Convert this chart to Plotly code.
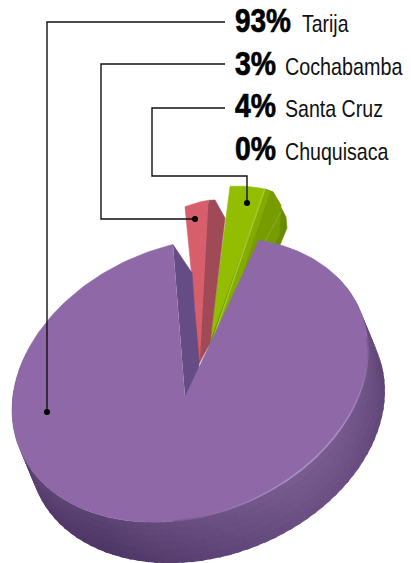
import numpy as np
import plotly.graph_objects as go

# ---- data
categories = ["Tarija", "Cochabamba", "Santa Cruz", "Chuquisaca"]
percent = [93, 3, 4, 0]
label_base = [32, 75, 117, 160]
pct_width = [56, 41, 41, 41]
name_x = [302, 285, 285, 285]
name_width = [47, 118, 98, 104]

# ---- projection of the tilted pie (pixel-space axes)
CX, CY = 190, 380
AX, CXY, DY = 178, -30, 139
APEX = (185, 397)
SHIFT = (17, 41)
GAP_STRETCH = 28.3 / 25.2
W, H = 411, 563

FACE = "#8f68a8"


def arc(t0, sweep, cx, cy, ax, cxy, dy, n=80):
    t = np.radians(np.linspace(t0, t0 + sweep, n))
    return cx + ax * np.cos(t), cy + cxy * np.cos(t) + dy * np.sin(t)


fig = go.Figure()


def poly(xs, ys, color, lw=0.6):
    fig.add_trace(go.Scatter(x=list(xs), y=list(ys), mode="lines", fill="toself",
                             fillcolor=color, line=dict(color=color, width=lw),
                             hoverinfo="skip", showlegend=False))


def line(xs, ys, color, width):
    fig.add_trace(go.Scatter(x=list(xs), y=list(ys), mode="lines",
                             line=dict(color=color, width=width),
                             hoverinfo="skip", showlegend=False))


def mix(a, b, f):
    a = np.array(a, float); b = np.array(b, float)
    return tuple(a + (b - a) * f)


def css(c):
    return "rgb(%d,%d,%d)" % tuple(int(v) for v in c)


# ---- Santa Cruz (green) exploded slice
g_apex = (210, 342)
g_sweep = percent[2] * 3.6
gx, gy = arc(-82, g_sweep, g_apex[0], g_apex[1], 144, -30, 153, 20)
poly([gx[-1], 273, 286, 287, 280, 250, 205], [gy[-1], 192, 217, 228, 245, 300, 350], "#698c00")
poly([gx[-1], 273, 281, 279, 215], [gy[-1], 192, 205, 236, 340], "#779c00")
poly([gx[-1], 270, 240, 212], [gy[-1], 191, 280, 342], "#84ab00")
poly(np.r_[g_apex[0], gx], np.r_[g_apex[1], gy], "#93bd00")
line([gx[-1], 212], [gy[-1], 342], "#a5c838", 1.5)
line([281, 250], [212, 268], "#86aa20", 1.2)

# ---- Cochabamba (red) exploded slice
r_apex = (200, 360)
r_sweep = percent[1] * 3.6
rx, ry = arc(-96.9, r_sweep, r_apex[0], r_apex[1], 125, -30, 158, 12)
poly([rx[-1], 215, 225, 210, 202, 197, 195], [ry[-1], 200, 218, 343, 358, 368, 300], "#a04a58")
poly(np.r_[r_apex[0], rx], np.r_[r_apex[1], ry], "#d75f6b")

# ---- Tarija (purple) main slice
sweep = 360 - (100 - percent[0]) * 3.6 * GAP_STRETCH
t_start = -67.2
ex, ey = arc(t_start, sweep, CX, CY, AX, CXY, DY, 260)

# notch wall
poly([ex[-1], 192, 199, 190, APEX[0]], [ey[-1], 273, 367, 400, APEX[1]], "#664c84")

# outer side wall, in angular strips
dark = (90, 66, 114)
mid = (120, 92, 144)
edge = (104, 77, 127)
STEP = 3.0
NB = 6
for t in np.arange(-35, 200, STEP):
    x0, y0 = arc(t, STEP + 1.2, CX, CY, AX, CXY, DY, 4)
    if t < 55:
        rgb = mix(edge, mid, np.clip((t + 15) / 55, 0, 1))
    elif t < 120:
        rgb = mix(mid, dark, (t - 55) / 65)
    else:
        rgb = mix(dark, edge, np.clip((t - 120) / 60, 0, 1) * 0.7)
    for k in range(NB):
        f0, f1 = k / NB, (k + 1.4) / NB
        f1 = min(f1, 1)
        col = mix(rgb, tuple(v - 14 for v in rgb), f0)
        xs = np.r_[x0 + SHIFT[0] * f0, (x0 + SHIFT[0] * f1)[::-1]]
        ys = np.r_[y0 + SHIFT[1] * f0, (y0 + SHIFT[1] * f1)[::-1]]
        poly(xs, ys, css(col), 0)

# top face
poly(np.r_[APEX[0], ex], np.r_[APEX[1], ey], FACE)

# rim highlight
hx, hy = arc(-5, 100, CX, CY, AX, CXY, DY, 60)
for i in range(len(hx) - 1):
    f = np.sin(np.pi * i / (len(hx) - 2))
    line(hx[i:i + 2], hy[i:i + 2], css(mix((118, 88, 142), (172, 146, 196), f)), 1.6)

# ---- leader lines and dots
leaders_x = [[47, 47, 225], [195, 101, 101, 225], [247, 247, 152, 152, 225]]
leaders_y = [[412, 22, 22], [219, 219, 64, 64], [203, 176, 176, 108, 108]]
for lx, ly in zip(leaders_x, leaders_y):
    line(lx, ly, "#111111", 1.4)
    fig.add_trace(go.Scatter(x=[lx[0]], y=[ly[0]], mode="markers",
                             marker=dict(color="#000000", size=6),
                             hoverinfo="skip", showlegend=False))

# ---- labels (condensed afterwards, no narrow face is installed)
FONT = "Liberation Sans, Arial, sans-serif"
anns = []
targets = []
for name, p, b, pw, nx, nw in zip(categories, percent, label_base, pct_width, name_x, name_width):
    anns.append(dict(x=233.5, y=b - 12, text="<b>%d%%</b>" % p, showarrow=False, xanchor="left",
                     yanchor="middle", font=dict(family=FONT, size=34, color="#000"),
                     xref="x", yref="y", borderpad=0))
    targets.append(pw)
    anns.append(dict(x=nx - 1.5, y=b - 9, text=name, showarrow=False, xanchor="left",
                     yanchor="middle", font=dict(family=FONT, size=24, color="#111"),
                     xref="x", yref="y", borderpad=0))
    targets.append(nw)

fig.update_layout(width=W, height=H, margin=dict(l=0, r=0, t=0, b=0),
                  paper_bgcolor="white", plot_bgcolor="white", annotations=anns,
                  showlegend=False,
                  xaxis=dict(range=[0, W], visible=False, fixedrange=True),
                  yaxis=dict(range=[H, 0], visible=False, fixedrange=True))

post = """
document.body.style.margin='0';document.body.style.overflow='hidden';
var targets = %s;
document.querySelectorAll('.annotation-text').forEach(function(el, i){
  var b = el.getBBox();
  var s = targets[i] / b.width;
  el.setAttribute('transform', 'translate(' + b.x + ',0) scale(' + s + ',1) translate(' + (-b.x) + ',0)');
  if (i %% 2 === 0) { el.style.stroke = '#000'; el.style.strokeWidth = '0.7px'; }
});
""" % targets

fig.write_html("out.html", config={"displayModeBar": False}, post_script=post)
